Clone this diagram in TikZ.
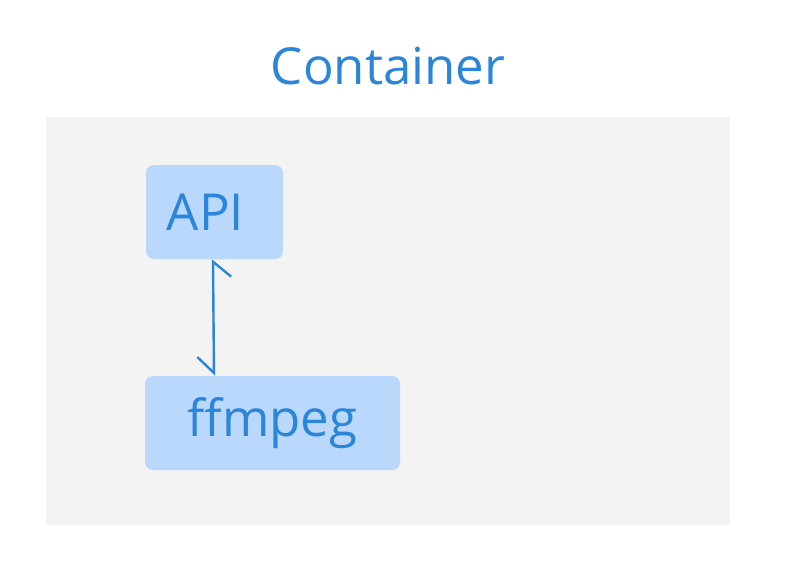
\documentclass[tikz,border=0pt]{standalone}
\usepackage{fontspec}
\setmainfont{Open Sans}
\usetikzlibrary{arrows.meta}
\definecolor{txtblue}{HTML}{2B86DA}
\definecolor{boxblue}{HTML}{BAD8FC}
\definecolor{bggray}{HTML}{F3F3F3}
\tikzset{
  compbox/.style={fill=boxblue, rounded corners=8pt, inner sep=0pt, font=\fontsize{51}{51}\selectfont, text=txtblue},
  link/.style={draw=txtblue, line width=2.4pt, {Straight Barb[right,length=15pt,width=36pt]}-{Straight Barb[right,length=16pt,width=33pt]}}
}
\begin{document}
\begin{tikzpicture}[x=1pt,y=-1pt]
\useasboundingbox (0,0) rectangle (787,581);
\fill[bggray] (46,117) rectangle (730,525);
\node[text=txtblue, font=\fontsize{51}{51}\selectfont] (title) at (388,66) {Container};
\node[compbox, minimum width=137pt, minimum height=94pt] (api) at (214.5,212) {API\hspace*{18pt}};
\node[compbox, minimum width=255pt, minimum height=94pt] (ffmpeg) at (272.5,423) {ffmpeg};
\draw[link] ([xshift=-1.5pt]api.south) -- ([xshift=-58.5pt]ffmpeg.north);
\end{tikzpicture}
\end{document}
